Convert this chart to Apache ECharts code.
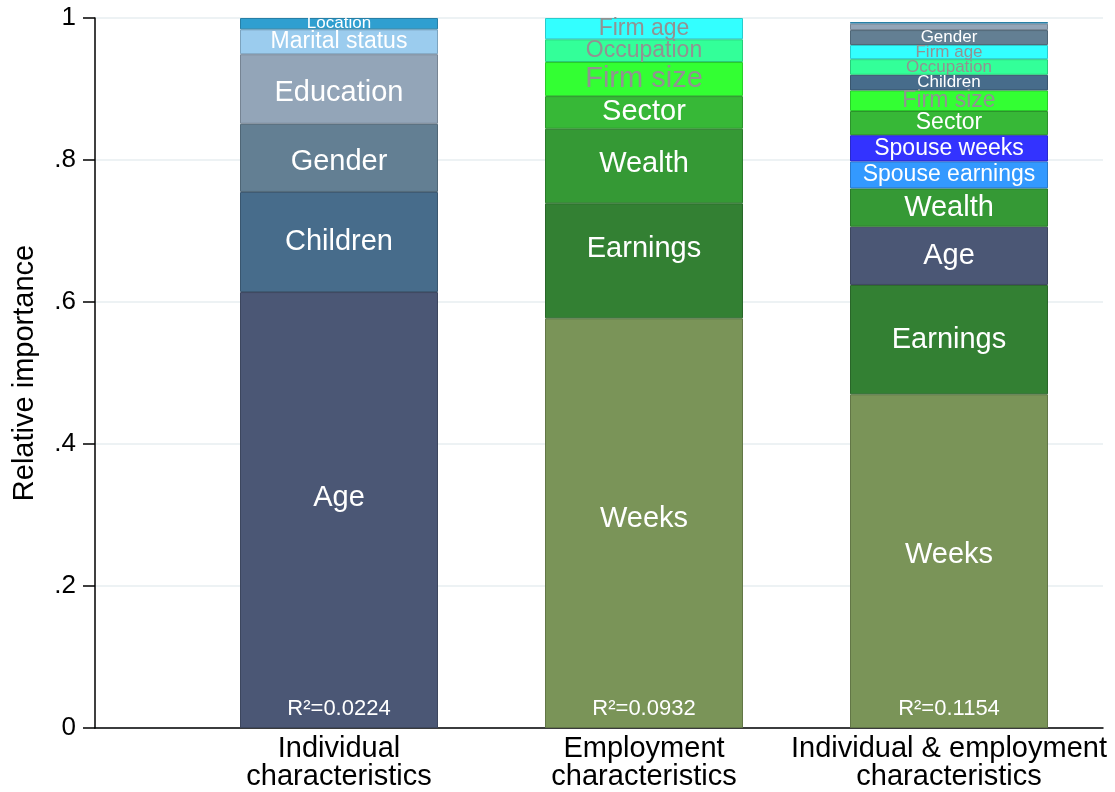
<!DOCTYPE html>
<html>
<head>
<meta charset="utf-8">
<script src="https://cdn.jsdelivr.net/npm/echarts@6/dist/echarts.min.js"></script>
<style>
html,body{margin:0;padding:0;background:#fff;}
#chart{width:1115px;height:792px;}
</style>
</head>
<body>
<div id="chart"></div>
<script>
// ---- data ----
const categories = ['Individual\ncharacteristics', 'Employment\ncharacteristics', 'Individual & employment\ncharacteristics'];
const segments = ['Weeks', 'Earnings', 'Age', 'Wealth', 'Spouse earnings', 'Spouse weeks', 'Sector', 'Firm size', 'Children', 'Occupation', 'Firm age', 'Gender', 'Education', 'Marital status', 'Location'];
const individual = [0, 0, 0.614, 0, 0, 0, 0, 0, 0.141, 0, 0, 0.096, 0.098, 0.035, 0.016];
const employment = [0.577, 0.162, 0, 0.105, 0, 0, 0.046, 0.048, 0, 0.032, 0.030, 0, 0, 0, 0];
const combined = [0.470, 0.154, 0.082, 0.054, 0.038, 0.037, 0.034, 0.029, 0.022, 0.022, 0.020, 0.021, 0.009, 0.001, 0.001];
const rSquared = [0.0224, 0.0932, 0.1154];
const rSquaredLabelY = 0.027;
const yTickLabels = {'0': '0', '0.2': '.2', '0.4': '.4', '0.6': '.6', '0.8': '.8', '1': '1'};

// ---- styles ----
const colors = {
  'Weeks': '#7a9458', 'Earnings': '#338033', 'Age': '#4b5775', 'Wealth': '#359935',
  'Spouse earnings': '#3399ff', 'Spouse weeks': '#3333ff', 'Sector': '#37b837',
  'Firm size': '#33ff33', 'Children': '#476c8b', 'Occupation': '#33ff99',
  'Firm age': '#33ffff', 'Gender': '#637f93', 'Education': '#93a5b8',
  'Marital status': '#9bccee', 'Location': '#2f9fd0'
};
const greyLabels = {'Firm size': 1, 'Occupation': 1, 'Firm age': 1};
// vertical label nudges in px, per bar (index 0,1,2)
const labelNudge = {
  'Age': [-12, 0, 0], 'Earnings': [0, -12, 0], 'Weeks': [0, -4, -6],
  'Education': [4, 0, 0], 'Gender': [4, 0, 0], 'Wealth': [0, -2, 0]
};
const FONT = "'Liberation Sans', Arial, Helvetica, sans-serif";

function darken(hex, f) {
  const n = parseInt(hex.slice(1), 16);
  const r = Math.round(((n >> 16) & 255) * f), g = Math.round(((n >> 8) & 255) * f), b = Math.round((n & 255) * f);
  return 'rgb(' + r + ',' + g + ',' + b + ')';
}
function labelSize(v) {
  if (v < 0.015) return 0;
  if (v < 0.025) return 17;
  if (v < 0.042) return 23;
  return 29;
}

const barSeries = segments.map(function (name, i) {
  const vals = [individual[i], employment[i], combined[i]];
  return {
    name: name,
    type: 'bar',
    stack: 'total',
    xAxisIndex: 1,
    yAxisIndex: 1,
    barWidth: 198,
    z: 3,
    data: vals.map(function (v, j) {
      const fs = labelSize(v);
      const dy = labelNudge[name] ? labelNudge[name][j] : 0;
      return {
        value: v,
        itemStyle: {
          color: colors[name],
          borderColor: darken(colors[name], 0.8),
          borderWidth: v > 0 ? 1 : 0
        },
        label: {
          show: fs > 0,
          position: 'inside',
          offset: [0, dy],
          formatter: name,
          fontSize: fs || 12,
          fontFamily: FONT,
          textBorderWidth: 0,
          color: greyLabels[name] ? '#929292' : '#ffffff'
        }
      };
    })
  };
});

const r2Series = {
  type: 'scatter',
  xAxisIndex: 1,
  yAxisIndex: 1,
  symbolSize: 0,
  z: 5,
  silent: true,
  itemStyle: {color: '#ffffff', opacity: 1},
  data: rSquared.map(function (r, i) { return [i, rSquaredLabelY]; }),
  label: {
    show: true,
    position: 'inside',
    fontFamily: FONT,
    fontSize: 22,
    color: '#ffffff',
    opacity: 1,
    textBorderWidth: 0,
    formatter: function (p) { return 'R\u00B2=' + rSquared[p.dataIndex].toFixed(4); }
  }
};

const chart = echarts.init(document.getElementById('chart'), null, {renderer: 'canvas'});
chart.setOption({
  animation: false,
  backgroundColor: '#ffffff',
  grid: [
    {left: 95, right: 12, top: 18, bottom: 64, containLabel: false, outerBoundsMode: 'none'},
    {left: 186.5, right: 13.5, top: 18, bottom: 64, containLabel: false, outerBoundsMode: 'none'}
  ],
  xAxis: [
    {
      gridIndex: 0, type: 'value', min: 0, max: 1,
      axisLine: {show: true, onZero: false, lineStyle: {color: '#000', width: 1.5}},
      axisTick: {show: false}, axisLabel: {show: false}, splitLine: {show: false}
    },
    {
      gridIndex: 1, type: 'category', data: categories, boundaryGap: true,
      axisLine: {show: false}, axisTick: {show: false}, splitLine: {show: false},
      axisLabel: {
        show: true, interval: 0, margin: 7, color: '#000', fontSize: 29,
        lineHeight: 28, fontFamily: FONT, align: 'center'
      }
    }
  ],
  yAxis: [
    {
      gridIndex: 0, type: 'value', min: 0, max: 1, interval: 0.2,
      name: 'Relative importance', nameLocation: 'middle', nameGap: 56, nameRotate: 90,
      nameTextStyle: {fontSize: 29, color: '#000', fontFamily: FONT},
      axisLine: {show: true, lineStyle: {color: '#000', width: 1.5}},
      axisTick: {show: true, length: 12, lineStyle: {color: '#000', width: 1.5}},
      axisLabel: {
        show: true, margin: 19, fontSize: 26, color: '#000', fontFamily: FONT,
        formatter: function (v) { const k = String(Math.round(v * 10) / 10); return yTickLabels[k] !== undefined ? yTickLabels[k] : k; }
      },
      splitLine: {show: true, lineStyle: {color: '#e7eef1', width: 1.5}}
    },
    {
      gridIndex: 1, type: 'value', min: 0, max: 1, interval: 0.2,
      axisLine: {show: false}, axisTick: {show: false}, axisLabel: {show: false}, splitLine: {show: false}
    }
  ],
  series: barSeries.concat([r2Series])
});
</script>
</body>
</html>
